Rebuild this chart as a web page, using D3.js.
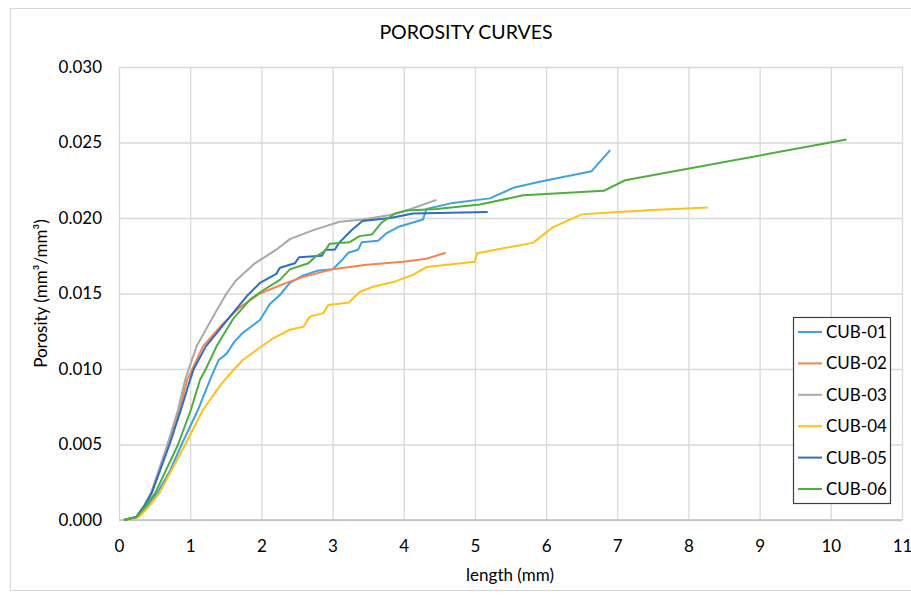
<!DOCTYPE html>
<html>
<head>
<meta charset="utf-8">
<script src="https://cdn.jsdelivr.net/npm/d3@7/dist/d3.min.js"></script>
<style>
  body { margin: 0; background: #fff; }
  text { font-family: Lato, "Open Sans", sans-serif; fill: #000; }
</style>
</head>
<body>
<svg id="chart" width="911" height="596"></svg>
<script>
// series names and colours
var seriesNames = ["CUB-01", "CUB-02", "CUB-03", "CUB-04", "CUB-05", "CUB-06"];
var seriesColors = ["#3fa2e0", "#f7834a", "#a8a8a8", "#ffc117", "#2e6dc6", "#4dae3e"];

// [length (mm), porosity]
var cub01 = [[0.07,0],[0.26,0.0002],[0.40,0.0009],[0.54,0.0018],[0.72,0.0033],[0.88,0.005],[1.11,0.0073],[1.28,0.0093],[1.40,0.0106],[1.51,0.0110],[1.62,0.0118],[1.74,0.0124],[1.98,0.01325],[2.12,0.0143],[2.26,0.0149],[2.40,0.0157],[2.59,0.0162],[2.78,0.0165],[3.0,0.0166],[3.13,0.0172],[3.22,0.0177],[3.36,0.0179],[3.41,0.0184],[3.64,0.0185],[3.76,0.0190],[3.92,0.0194],[4.27,0.0199],[4.32,0.0206],[4.69,0.0210],[5.21,0.0213],[5.54,0.0220],[5.91,0.0224],[6.64,0.0231],[6.90,0.0245]];
var cub02 = [[0.07,0],[0.25,0.0002],[0.36,0.0009],[0.46,0.0018],[0.70,0.005],[0.85,0.0073],[0.96,0.0093],[1.18,0.0115],[1.46,0.0130],[1.70,0.0141],[1.98,0.0150],[2.35,0.0157],[2.59,0.0161],[3.0,0.0166],[3.48,0.0169],[3.99,0.0171],[4.32,0.0173],[4.59,0.0177]];
var cub03 = [[0.07,0],[0.24,0.0002],[0.35,0.0009],[0.45,0.0018],[0.68,0.005],[0.83,0.0073],[0.93,0.0093],[0.98,0.0100],[1.09,0.0115],[1.35,0.0137],[1.51,0.0150],[1.65,0.0159],[1.91,0.0170],[2.21,0.0179],[2.40,0.0186],[2.73,0.0192],[3.1,0.01975],[3.43,0.0199],[3.81,0.0202],[4.04,0.0205],[4.46,0.0212]];
var cub04 = [[0.07,0],[0.28,0.0002],[0.42,0.0009],[0.57,0.0018],[0.93,0.005],[1.18,0.0073],[1.42,0.0089],[1.49,0.0093],[1.62,0.0100],[1.74,0.0106],[1.93,0.01126],[2.17,0.01205],[2.40,0.0126],[2.59,0.0128],[2.68,0.01347],[2.87,0.0137],[2.94,0.01424],[3.23,0.0144],[3.38,0.0151],[3.57,0.01545],[3.88,0.0158],[4.13,0.01623],[4.32,0.01675],[5.0,0.0171],[5.03,0.01766],[5.82,0.01837],[6.10,0.0194],[6.50,0.02024],[7.0,0.0204],[7.5,0.02053],[8.27,0.0207]];
var cub05 = [[0.07,0],[0.24,0.0002],[0.35,0.0009],[0.46,0.0018],[0.71,0.005],[0.87,0.0073],[1.0,0.0093],[1.05,0.0100],[1.22,0.0115],[1.60,0.0137],[1.79,0.0148],[1.98,0.0157],[2.21,0.0163],[2.26,0.0167],[2.47,0.0170],[2.53,0.0174],[2.85,0.0175],[2.90,0.0179],[3.03,0.0179],[3.10,0.0184],[3.27,0.0192],[3.42,0.0198],[3.81,0.0200],[4.13,0.0203],[5.18,0.0204]];
var cub06 = [[0.07,0],[0.25,0.0002],[0.37,0.0009],[0.51,0.0018],[0.83,0.005],[1.01,0.0073],[1.14,0.0093],[1.22,0.0100],[1.37,0.0115],[1.60,0.0133],[1.84,0.0146],[2.02,0.0152],[2.26,0.0159],[2.40,0.0166],[2.66,0.0170],[2.75,0.0174],[2.89,0.0178],[2.96,0.0183],[3.24,0.0184],[3.38,0.0188],[3.55,0.0189],[3.62,0.0193],[3.69,0.0197],[3.88,0.0203],[4.04,0.0205],[4.46,0.0206],[5.07,0.0209],[5.68,0.0215],[6.81,0.0218],[7.11,0.0225],[10.22,0.0252]];

var xTicks = [0,1,2,3,4,5,6,7,8,9,10,11];
var yTicks = [0, 0.005, 0.010, 0.015, 0.020, 0.025, 0.030];

var allSeries = [cub01, cub02, cub03, cub04, cub05, cub06];

var svg = d3.select("#chart");

// chart border
svg.append("rect")
    .attr("x", 10.5).attr("y", 8.5)
    .attr("width", 910).attr("height", 582)
    .attr("fill", "#fff")
    .attr("stroke", "#d9d9d9");

var plotLeft = 119, plotRight = 902, plotTop = 67, plotBottom = 520;

var x = d3.scaleLinear().domain([0, 11]).range([plotLeft, plotRight]);
var y = d3.scaleLinear().domain([0, 0.030]).range([plotBottom, plotTop]);

// gridlines
svg.append("g")
    .attr("transform", "translate(0," + plotBottom + ")")
    .call(d3.axisBottom(x).tickValues(xTicks).tickSize(-(plotBottom - plotTop)).tickFormat(""))
    .call(function (g) {
        g.select(".domain").remove();
        g.selectAll("line").attr("stroke", "#d9d9d9").attr("stroke-width", 1.3);
    });

svg.append("g")
    .attr("transform", "translate(" + plotLeft + ",0)")
    .call(d3.axisLeft(y).tickValues(yTicks).tickSize(-(plotRight - plotLeft)).tickFormat(""))
    .call(function (g) {
        g.select(".domain").remove();
        g.selectAll("line").attr("stroke", "#d9d9d9").attr("stroke-width", 1.3);
    });

// x axis line
svg.append("line")
    .attr("x1", plotLeft).attr("x2", plotRight)
    .attr("y1", plotBottom).attr("y2", plotBottom)
    .attr("stroke", "#bfbfbf").attr("stroke-width", 1.3);

// tick labels
svg.append("g")
    .attr("transform", "translate(0," + plotBottom + ")")
    .call(d3.axisBottom(x).tickValues(xTicks).tickSize(0).tickPadding(20).tickFormat(d3.format("d")))
    .call(function (g) {
        g.select(".domain").remove();
        g.selectAll("text").style("font-size", "17px").style("font-family", "Lato, sans-serif");
    });

svg.append("g")
    .attr("transform", "translate(" + plotLeft + ",0)")
    .call(d3.axisLeft(y).tickValues(yTicks).tickSize(0).tickPadding(17).tickFormat(d3.format(".3f")))
    .call(function (g) {
        g.select(".domain").remove();
        g.selectAll("text").style("font-size", "17px").style("font-family", "Lato, sans-serif");
    });

// lines
var line = d3.line()
    .x(function (d) { return x(d[0]); })
    .y(function (d) { return y(d[1]); });

svg.append("g").selectAll("path")
    .data(allSeries)
    .enter()
    .append("path")
    .attr("d", line)
    .attr("fill", "none")
    .attr("stroke", function (d, i) { return seriesColors[i]; })
    .attr("stroke-width", 2)
    .attr("stroke-linejoin", "round");

// titles
svg.append("text")
    .attr("x", 466).attr("y", 39)
    .attr("text-anchor", "middle")
    .style("font-size", "19.5px")
    .text("POROSITY CURVES");

svg.append("text")
    .attr("x", 510).attr("y", 581)
    .attr("text-anchor", "middle")
    .style("font-size", "17px")
    .text("length (mm)");

svg.append("text")
    .attr("transform", "translate(47," + ((plotTop + plotBottom) / 2) + ") rotate(-90)")
    .attr("text-anchor", "middle")
    .style("font-size", "17px")
    .text("Porosity (mm³/mm³)");

// legend
var legend = svg.append("g");
legend.append("rect")
    .attr("x", 793.5).attr("y", 317.5)
    .attr("width", 97).attr("height", 186)
    .attr("fill", "#fff")
    .attr("stroke", "#404040").attr("stroke-width", 1.2);

var items = legend.selectAll("g.item")
    .data(seriesNames)
    .enter()
    .append("g")
    .attr("class", "item")
    .attr("transform", function (d, i) { return "translate(798," + (332 + i * 31.4) + ")"; });

items.append("line")
    .attr("x1", 0).attr("x2", 24)
    .attr("stroke", function (d, i) { return seriesColors[i]; })
    .attr("stroke-width", 2);

items.append("text")
    .attr("x", 28).attr("dy", "0.35em")
    .style("font-size", "17px")
    .text(function (d) { return d; });
</script>
</body>
</html>
